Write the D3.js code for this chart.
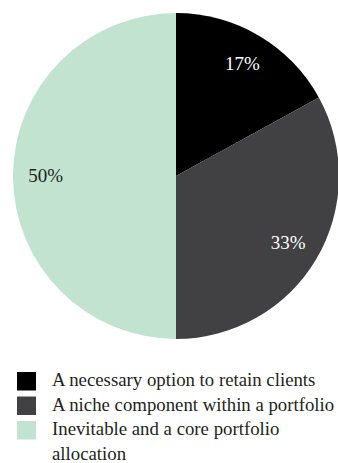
<!DOCTYPE html>
<html>
<head>
<meta charset="utf-8">
<script src="https://cdn.jsdelivr.net/npm/d3@7"></script>
<style>
  html, body { margin: 0; padding: 0; background: #fff; }
  svg { display: block; }
  svg text { font-family: "Liberation Serif"; }
</style>
</head>
<body>
<svg id="chart" width="338" height="463"></svg>
<script>
// Survey answers and their shares (%)
const categories = [
  "A necessary option to retain clients",
  "A niche component within a portfolio",
  "Inevitable and a core portfolio allocation"
];
const values = [17, 33, 50];
const colors = ["#000000", "#414042", "#c2e3d0"];
const labelColors = ["#ffffff", "#ffffff", "#231f20"];
// Legend entries broken into display lines
const legendLines = [
  ["A necessary option to retain clients"],
  ["A niche component within a portfolio"],
  ["Inevitable and a core portfolio", "allocation"]
];

const svg = d3.select("#chart");
const cx = 176, cy = 176, r = 163;

const pie = d3.pie().sort(null).value(d => d)(values);
const arc = d3.arc().innerRadius(0).outerRadius(r);
const labelArc = d3.arc().innerRadius(r * 0.8).outerRadius(r * 0.8);

const g = svg.append("g").attr("transform", `translate(${cx},${cy})`);

g.selectAll("path.slice")
  .data(pie)
  .join("path")
  .attr("class", "slice")
  .attr("d", arc)
  .attr("fill", (d, i) => colors[i]);

g.selectAll("text.pct")
  .data(pie)
  .join("text")
  .attr("class", "pct")
  .attr("transform", d => `translate(${labelArc.centroid(d)})`)
  .attr("text-anchor", "middle")
  .attr("dy", "0.33em")
  .attr("font-size", 19)
  .attr("font-family", "Liberation Serif")
  .attr("fill", (d, i) => labelColors[i])
  .text(d => d.data + "%");

// Legend
const legend = svg.append("g").attr("transform", "translate(17,372)");
const rowH = 24.5;
const items = legend.selectAll("g.item")
  .data(categories)
  .join("g")
  .attr("class", "item")
  .attr("transform", (d, i) => `translate(0,${i * rowH})`);

items.append("rect")
  .attr("width", 19)
  .attr("height", 18.5)
  .attr("fill", (d, i) => colors[i]);

items.append("text")
  .attr("y", 14)
  .attr("font-size", 18.8)
  .attr("font-family", "Liberation Serif")
  .attr("fill", "#231f20")
  .selectAll("tspan")
  .data((d, i) => legendLines[i])
  .join("tspan")
  .attr("x", 35)
  .attr("dy", (d, j) => j === 0 ? 0 : rowH)
  .text(d => d);
</script>
</body>
</html>
